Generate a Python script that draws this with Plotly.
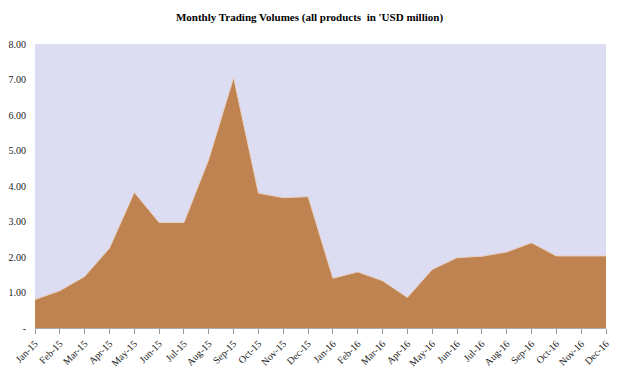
import plotly.graph_objects as go

months = ["Jan-15","Feb-15","Mar-15","Apr-15","May-15","Jun-15","Jul-15","Aug-15","Sep-15","Oct-15","Nov-15","Dec-15",
          "Jan-16","Feb-16","Mar-16","Apr-16","May-16","Jun-16","Jul-16","Aug-16","Sep-16","Oct-16","Nov-16","Dec-16"]
volumes = [0.80, 1.05, 1.45, 2.25, 3.82, 2.97, 2.97, 4.75, 7.05, 3.80, 3.67, 3.70,
           1.40, 1.58, 1.33, 0.86, 1.65, 1.98, 2.02, 2.14, 2.40, 2.03, 2.03, 2.03]
y_ticks = [0, 1, 2, 3, 4, 5, 6, 7, 8]
y_labels = ["-", "1.00", "2.00", "3.00", "4.00", "5.00", "6.00", "7.00", "8.00"]

fig = go.Figure()
fig.add_trace(go.Scatter(
    x=months, y=volumes, mode="lines", fill="tozeroy",
    fillcolor="#BE8350", line=dict(color="#E8CFC0", width=1),
    hoverinfo="x+y",
))

font = "Liberation Serif"
fig.update_layout(
    width=619, height=372,
    margin=dict(l=35, r=13, t=44, b=44),
    paper_bgcolor="white", plot_bgcolor="#DCDCF2",
    showlegend=False,
    font=dict(family=font, size=10, color="#222"),
    title=dict(text="<b>Monthly Trading Volumes (all products  in 'USD million)</b>",
               x=0.5, xanchor="center", y=0.955, yanchor="middle",
               font=dict(family=font, size=11, color="#000")),
)
fig.update_xaxes(
    type="category", range=[0, len(months) - 1], tickangle=-45,
    showgrid=False, ticks="outside", ticklen=5, tickcolor="#999",
    showline=True, linecolor="#AAA", linewidth=1, automargin=False,
    tickfont=dict(family=font, size=10, color="#222"),
)
fig.update_yaxes(
    range=[0, 8], tickvals=y_ticks, ticktext=y_labels,
    showgrid=False, zeroline=False, showline=False, automargin=False,
    ticks="outside", ticklen=6, tickcolor="rgba(0,0,0,0)",
    tickfont=dict(family=font, size=10, color="#222"),
)
fig.write_html("out.html", config={"displayModeBar": False},
               post_script="document.body.style.margin='0';document.body.style.overflow='hidden';")
